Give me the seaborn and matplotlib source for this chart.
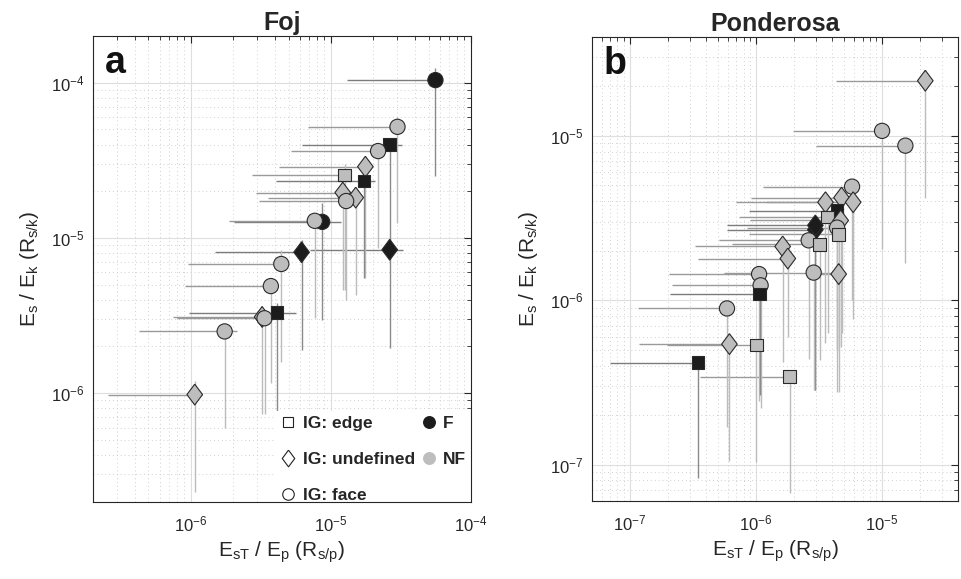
import matplotlib
matplotlib.use('Agg')
import matplotlib.pyplot as plt
from matplotlib.lines import Line2D
import pandas as pd
import seaborn as sns

# ---- panel a : Foj ----
a_ig = ['face', 'face', 'edge', 'face', 'undefined', 'edge', 'edge', 'undefined', 'undefined', 'face',
        'face', 'face', 'undefined', 'undefined', 'face', 'face', 'undefined', 'face', 'edge', 'face', 'undefined']
a_fire = ['F', 'NF', 'F', 'NF', 'NF', 'NF', 'F', 'NF', 'NF', 'NF',
          'F', 'NF', 'F', 'F', 'NF', 'NF', 'NF', 'NF', 'F', 'NF', 'NF']
a_x = [5.6e-5, 3.0e-5, 2.64e-5, 2.18e-5, 1.77e-5, 1.26e-5, 1.73e-5, 1.22e-5, 1.51e-5, 1.29e-5,
       8.7e-6, 7.7e-6, 6.2e-6, 2.64e-5, 4.44e-6, 3.74e-6, 3.24e-6, 3.37e-6, 4.13e-6, 1.75e-6, 1.07e-6]
a_y = [1.04e-4, 5.2e-5, 4.0e-5, 3.63e-5, 2.88e-5, 2.55e-5, 2.33e-5, 1.96e-5, 1.82e-5, 1.73e-5,
       1.27e-5, 1.29e-5, 8.1e-6, 8.4e-6, 6.8e-6, 4.9e-6, 3.1e-6, 3.04e-6, 3.3e-6, 2.5e-6, 9.8e-7]
a_xlo = [1.3e-5, 6.9e-6, 6.2e-6, 5.2e-6, 4.3e-6, 2.75e-6, 4.1e-6, 2.95e-6, 3.56e-6, 3.1e-6,
         2.04e-6, 1.87e-6, 1.49e-6, 7.1e-6, 9.6e-7, 9.1e-7, 7.5e-7, 8.0e-7, 9.8e-7, 4.25e-7, 2.56e-7]
a_xhi = [6.0e-5, 3.1e-5, 3.24e-5, 2.3e-5, 1.9e-5, 1.35e-5, 2.07e-5, 1.3e-5, 1.6e-5, 1.35e-5,
         1.18e-5, 8.0e-6, 6.4e-6, 3.3e-5, 4.6e-6, 3.9e-6, 3.4e-6, 3.5e-6, 5.7e-6, 2.15e-6, 1.21e-6]
a_ylo = [2.5e-5, 1.24e-5, 8.6e-6, 8.6e-6, 5.5e-6, 4.6e-6, 5.5e-6, 4.6e-6, 4.3e-6, 4.0e-6,
         2.95e-6, 3.04e-6, 1.9e-6, 1.95e-6, 1.58e-6, 1.17e-6, 7.3e-7, 7.3e-7, 7.3e-7, 5.96e-7, 2.3e-7]
a_yhi = [1.24e-4, 6.0e-5, 4.3e-5, 3.8e-5, 3.2e-5, 3.0e-5, 2.5e-5, 2.1e-5, 2.0e-5, 1.85e-5,
         1.69e-5, 1.4e-5, 9.7e-6, 9.5e-6, 8.4e-6, 5.5e-6, 3.4e-6, 3.3e-6, 3.8e-6, 2.8e-6, 1.2e-6]

# ---- panel b : Ponderosa ----
b_ig = ['undefined', 'face', 'face', 'face', 'undefined', 'undefined', 'undefined', 'edge', 'edge', 'undefined',
        'undefined', 'undefined', 'face', 'edge', 'face', 'edge', 'undefined', 'undefined', 'face', 'undefined',
        'face', 'face', 'edge', 'face', 'undefined', 'edge', 'edge', 'edge']
b_fire = ['NF', 'NF', 'NF', 'NF', 'NF', 'NF', 'NF', 'F', 'NF', 'NF',
          'F', 'F', 'NF', 'NF', 'NF', 'NF', 'NF', 'NF', 'NF', 'NF',
          'NF', 'NF', 'F', 'NF', 'NF', 'NF', 'F', 'NF']
b_x = [2.2e-5, 1.0e-5, 1.53e-5, 5.78e-6, 4.77e-6, 5.9e-6, 3.56e-6, 4.4e-6, 3.7e-6, 4.7e-6,
       2.96e-6, 2.96e-6, 4.4e-6, 4.53e-6, 2.62e-6, 3.2e-6, 1.63e-6, 1.79e-6, 2.87e-6, 4.53e-6,
       1.06e-6, 1.09e-6, 1.07e-6, 5.9e-7, 6.17e-7, 1.01e-6, 3.49e-7, 1.85e-6]
b_y = [2.16e-5, 1.07e-5, 8.7e-6, 4.9e-6, 4.2e-6, 3.94e-6, 3.94e-6, 3.5e-6, 3.2e-6, 3.05e-6,
       2.68e-6, 2.85e-6, 2.76e-6, 2.51e-6, 2.31e-6, 2.18e-6, 2.12e-6, 1.79e-6, 1.47e-6, 1.44e-6,
       1.44e-6, 1.23e-6, 1.09e-6, 8.9e-7, 5.4e-7, 5.34e-7, 4.17e-7, 3.43e-7]
b_xlo = [4.35e-6, 1.96e-6, 3.0e-6, 1.14e-6, 9.2e-7, 1.2e-6, 6.9e-7, 8.8e-7, 7.3e-7, 9.0e-7,
         5.9e-7, 5.9e-7, 8.5e-7, 8.8e-7, 5.07e-7, 6.5e-7, 3.27e-7, 3.5e-7, 5.56e-7, 3.0e-6,
         2.04e-7, 2.17e-7, 2.1e-7, 1.16e-7, 1.19e-7, 1.98e-7, 6.95e-8, 3.59e-7]
b_xhi = [2.3e-5, 1.05e-5, 1.6e-5, 6.0e-6, 5.0e-6, 6.1e-6, 3.8e-6, 4.6e-6, 3.9e-6, 4.9e-6,
         3.1e-6, 3.1e-6, 4.6e-6, 4.7e-6, 2.8e-6, 3.4e-6, 1.7e-6, 1.9e-6, 4.5e-6, 4.8e-6,
         1.1e-6, 1.15e-6, 1.12e-6, 6.2e-7, 6.5e-7, 1.05e-6, 3.7e-7, 1.9e-6]
b_ylo = [4.2e-6, 2.06e-6, 1.67e-6, 1.0e-6, 6.3e-7, 7.7e-7, 5.5e-7, 5.0e-7, 6.3e-7, 5.2e-7,
         2.85e-7, 2.85e-7, 2.78e-7, 5.2e-7, 4.4e-7, 4.3e-7, 4.2e-7, 6.0e-7, 2.85e-7, 2.78e-7,
         2.42e-7, 2.2e-7, 2.65e-7, 1.7e-7, 1.05e-7, 1.03e-7, 8.3e-8, 6.7e-8]
b_yhi = [2.5e-5, 1.15e-5, 9.5e-6, 5.3e-6, 4.6e-6, 4.3e-6, 4.3e-6, 3.7e-6, 3.4e-6, 3.3e-6,
         2.9e-6, 3.1e-6, 3.0e-6, 2.7e-6, 2.5e-6, 2.35e-6, 2.3e-6, 1.95e-6, 1.6e-6, 1.55e-6,
         1.55e-6, 1.35e-6, 1.15e-6, 9.5e-7, 6.2e-7, 5.6e-7, 4.4e-7, 3.6e-7]

sns.set_style('white')
plt.rcParams['font.family'] = ['Liberation Sans', 'DejaVu Sans']
plt.rcParams['mathtext.fontset'] = 'custom'
plt.rcParams['mathtext.rm'] = 'Liberation Sans'
plt.rcParams['mathtext.it'] = 'Liberation Sans:italic'
plt.rcParams['mathtext.bf'] = 'Liberation Sans:bold'

fire_col = {'F': '#1c1c1c', 'NF': '#bdbdbd'}
h_col = {'F': '#7c7c7c', 'NF': '#9a9a9a'}
v_col = {'F': '#8a8a8a', 'NF': '#bcbcbc'}
diamond = [(0, 1), (0.75, 0), (0, -1), (-0.75, 0), (0, 1)]
ig_marker = {'edge': 's', 'undefined': diamond, 'face': 'o'}
ig_size = {'edge': 82, 'undefined': 225, 'face': 120}
txt = '#262626'


def panel(ax, df, xlim, ylim, title, letter):
    ax.hlines(df['y'], df['xlo'], df['xhi'], colors=df['fire'].map(h_col), lw=1.0, zorder=2)
    ax.vlines(df['x'], df['ylo'], df['yhi'], colors=df['fire'].map(v_col), lw=1.0, zorder=2)
    sns.scatterplot(data=df, x='x', y='y', hue='fire', palette=fire_col,
                    style='ig', markers=ig_marker, size='ig', sizes=ig_size,
                    edgecolor='#2a2a2a', linewidth=0.8, legend=False, ax=ax, zorder=3)
    ax.set_xscale('log')
    ax.set_yscale('log')
    ax.set_xlim(xlim)
    ax.set_ylim(ylim)
    ax.grid(which='major', color='#dedede', lw=0.8, ls='-')
    ax.grid(which='minor', color='#cfcfcf', lw=0.7, ls=(0, (1, 3)))
    ax.set_axisbelow(True)
    ax.tick_params(which='both', direction='in', top=True, right=True, colors=txt, labelsize=12)
    ax.tick_params(which='major', length=5)
    ax.tick_params(which='minor', length=3)
    ax.tick_params(axis='x', which='both', pad=9)
    ax.tick_params(axis='y', which='both', pad=6)
    for s in ax.spines.values():
        s.set_color(txt)
        s.set_linewidth(0.8)
    ax.set_xlabel('E$_{\\mathregular{sT}}$ / E$_{\\mathregular{p}}$ (R$_{\\mathregular{s/p}}$)',
                  fontsize=15, color=txt, labelpad=4)
    ax.set_ylabel('E$_{\\mathregular{s}}$ / E$_{\\mathregular{k}}$ (R$_{\\mathregular{s/k}}$)',
                  fontsize=15, color=txt, labelpad=7)
    ax.set_title(title, fontsize=18, fontweight='bold', pad=4)
    ax.text(0.033, 0.92, letter, transform=ax.transAxes, fontsize=27, fontweight='bold',
            va='baseline', ha='left', color='#111111')


fig = plt.figure(figsize=(9.62, 5.79), dpi=100)
ax_a = fig.add_axes([0.0964, 0.1335, 0.3929, 0.8043])
ax_b = fig.add_axes([0.6151, 0.1347, 0.3808, 0.8019])

df_a = pd.DataFrame({'ig': a_ig, 'fire': a_fire, 'x': a_x, 'y': a_y,
                     'xlo': a_xlo, 'xhi': a_xhi, 'ylo': a_ylo, 'yhi': a_yhi})
df_b = pd.DataFrame({'ig': b_ig, 'fire': b_fire, 'x': b_x, 'y': b_y,
                     'xlo': b_xlo, 'xhi': b_xhi, 'ylo': b_ylo, 'yhi': b_yhi})

panel(ax_a, df_a, (2e-7, 1e-4), (2e-7, 2e-4), 'Foj', 'a')
panel(ax_b, df_b, (5e-8, 4e-5), (6e-8, 4e-5), 'Ponderosa', 'b')

handles = [
    Line2D([], [], ls='none', marker='s', ms=7, mfc='white', mec='#222222', mew=0.8, label='IG: edge'),
    Line2D([], [], ls='none', marker=diamond, ms=12, mfc='white', mec='#222222', mew=0.8, label='IG: undefined'),
    Line2D([], [], ls='none', marker='o', ms=8.3, mfc='white', mec='#222222', mew=0.8, label='IG: face'),
    Line2D([], [], ls='none', marker='o', ms=8.3, mfc=fire_col['F'], mec=fire_col['F'], label='F'),
    Line2D([], [], ls='none', marker='o', ms=8.3, mfc=fire_col['NF'], mec=fire_col['NF'], label='NF'),
]
leg = ax_a.legend(handles=handles, ncol=2, loc='lower left', bbox_to_anchor=(0.47, -0.022),
                  frameon=True, facecolor='white', edgecolor='none', framealpha=1, fancybox=False,
                  prop={'weight': 'bold', 'size': 12.5}, labelspacing=1.2,
                  handlelength=1.0, handletextpad=0.35, columnspacing=0.3, borderaxespad=0.2,
                  borderpad=0.3)
leg.set_zorder(2.4)

fig.savefig('out.png', dpi=100)
